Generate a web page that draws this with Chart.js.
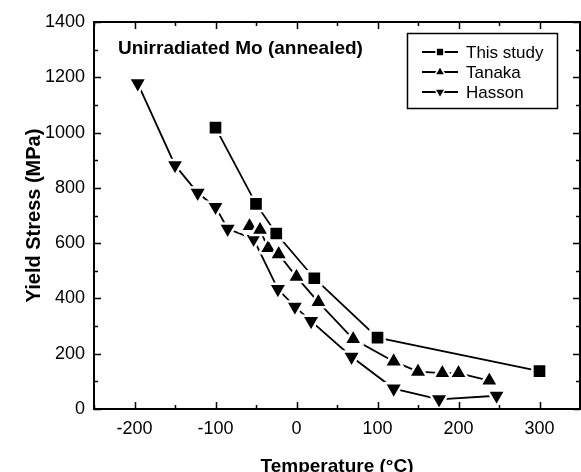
<!DOCTYPE html>
<html>
<head>
<meta charset="utf-8">
<script src="https://cdn.jsdelivr.net/npm/chart.js@4"></script>
<style>
  html, body { margin: 0; padding: 0; background: #fff; }
  #wrap { width: 581px; height: 472px; }
</style>
</head>
<body>
<div id="wrap"><canvas id="yieldChart" width="581" height="472"></canvas></div>
<script>
// temperatures (C) and yield stress (MPa)
const thisStudyTemp = [-100, -50, -25, 22, 100, 300];
const thisStudyStress = [1018, 742, 635, 473, 258, 137];

const tanakaTemp = [-58, -45, -35, -22, 0, 27, 70, 120, 150, 180, 200, 238];
const tanakaStress = [662, 648, 582, 560, 478, 387, 253, 172, 135, 130, 130, 103];

const hassonTemp = [-196, -150, -122, -100, -85, -53, -23, -2, 18, 68, 120, 176, 247];
const hassonStress = [1178, 882, 782, 731, 652, 615, 434, 370, 318, 189, 74, 35, 48];

const xTicks = [-200, -100, 0, 100, 200, 300];
const yTicks = [0, 200, 400, 600, 800, 1000, 1200, 1400];

const seriesNames = ['This study', 'Tanaka', 'Hasson'];
const noteText = 'Unirradiated Mo (annealed)';

function toPoints(xs, ys) {
    return xs.map((x, i) => ({ x: x, y: ys[i] }));
}

const baseSet = {
    showLine: true,
    borderColor: '#000',
    borderWidth: 1.8,
    backgroundColor: '#000',
    pointBackgroundColor: '#000',
    pointBorderColor: '#fff',
    pointBorderWidth: 2.5,
    pointHoverRadius: 10,
    fill: false
};

// frame, inside ticks, note and legend (drawn the Origin way)
const framePlugin = {
    id: 'frame',
    afterDraw(chart) {
        const ctx = chart.ctx;
        const a = chart.chartArea;
        const xs = chart.scales.x;
        const ys = chart.scales.y;
        ctx.save();
        ctx.strokeStyle = '#000';
        ctx.lineWidth = 1.5;
        for (let v = -250; v <= 350; v += 50) {
            const px = Math.round(xs.getPixelForValue(v)) + 0.5;
            const len = v % 100 === 0 ? 7 : 4;
            ctx.beginPath();
            ctx.moveTo(px, a.bottom); ctx.lineTo(px, a.bottom - len);
            ctx.moveTo(px, a.top); ctx.lineTo(px, a.top + len);
            ctx.stroke();
        }
        for (let v = 0; v <= 1400; v += 100) {
            const py = Math.round(ys.getPixelForValue(v)) + 0.5;
            const len = v % 200 === 0 ? 7 : 4;
            ctx.beginPath();
            ctx.moveTo(a.left, py); ctx.lineTo(a.left + len, py);
            ctx.moveTo(a.right, py); ctx.lineTo(a.right - len, py);
            ctx.stroke();
        }
        ctx.lineWidth = 2;
        ctx.strokeRect(a.left, a.top, a.right - a.left, a.bottom - a.top);

        ctx.fillStyle = '#000';
        ctx.font = 'bold 19px "Liberation Sans", Arial, sans-serif';
        ctx.textBaseline = 'alphabetic';
        ctx.textAlign = 'left';
        ctx.fillText(noteText, 118, 54);

        // legend
        ctx.lineWidth = 1.5;
        ctx.strokeRect(407.5, 33.5, 150, 75);
        const rows = [52, 72, 92];
        const styles = [['rect', 0], ['triangle', 0], ['triangle', 180]];
        ctx.font = '17px "Liberation Sans", Arial, sans-serif';
        ctx.textBaseline = 'middle';
        rows.forEach((ry, i) => {
            ctx.strokeStyle = '#000';
            ctx.lineWidth = 1.8;
            ctx.beginPath();
            ctx.moveTo(422, ry); ctx.lineTo(458, ry);
            ctx.stroke();
            ctx.fillStyle = '#000';
            ctx.strokeStyle = '#fff';
            ctx.lineWidth = 1.5;
            Chart.helpers.drawPoint(ctx, {
                pointStyle: styles[i][0],
                rotation: styles[i][1],
                radius: i === 0 ? 5.5 : 6,
                borderWidth: 1.5
            }, 440, ry);
            ctx.fillStyle = '#000';
            ctx.fillText(seriesNames[i], 466, ry + 1);
        });
        ctx.restore();
    }
};

const fontFamily = '"Liberation Sans", Arial, sans-serif';
const axisFont = { family: fontFamily, size: 18 };

new Chart(document.getElementById('yieldChart'), {
    type: 'scatter',
    data: {
        datasets: [
            Object.assign({}, baseSet, {
                label: seriesNames[0],
                data: toPoints(thisStudyTemp, thisStudyStress),
                pointStyle: 'rect',
                pointRadius: 10
            }),
            Object.assign({}, baseSet, {
                label: seriesNames[1],
                data: toPoints(tanakaTemp, tanakaStress),
                pointStyle: 'triangle',
                pointRadius: 10.5
            }),
            Object.assign({}, baseSet, {
                label: seriesNames[2],
                data: toPoints(hassonTemp, hassonStress),
                pointStyle: 'triangle',
                pointRotation: 180,
                pointRadius: 10.5
            })
        ]
    },
    options: {
        responsive: false,
        animation: false,
        layout: { autoPadding: false, padding: { top: 22, right: 1, left: 0, bottom: 0 } },
        plugins: {
            legend: { display: false },
            tooltip: { enabled: false }
        },
        scales: {
            x: {
                type: 'linear',
                min: -250,
                max: 350,
                afterFit: s => { s.height = 63; s.paddingLeft = 0; s.paddingRight = 0; },
                afterBuildTicks: s => { s.ticks = xTicks.map(v => ({ value: v })); },
                grid: { display: false, drawTicks: false },
                border: { display: false },
                ticks: { color: '#000', font: axisFont, padding: 9, maxRotation: 0, callback: v => String(v) },
                title: {
                    display: true,
                    text: 'Temperature (°C)',
                    color: '#000',
                    font: { family: fontFamily, size: 19, weight: 'bold', lineHeight: 0.6 },
                    padding: 0
                }
            },
            y: {
                type: 'linear',
                min: 0,
                max: 1400,
                afterFit: s => { s.width = 94; },
                afterBuildTicks: s => { s.ticks = yTicks.map(v => ({ value: v })); },
                grid: { display: false, drawTicks: false },
                border: { display: false },
                ticks: { color: '#000', font: axisFont, padding: 9, callback: v => String(v) },
                title: {
                    display: true,
                    text: 'Yield Stress (MPa)',
                    color: '#000',
                    font: { family: fontFamily, size: 20, weight: 'bold' },
                    padding: { top: 22, bottom: 0 }
                }
            }
        }
    },
    plugins: [framePlugin]
});
</script>
</body>
</html>
